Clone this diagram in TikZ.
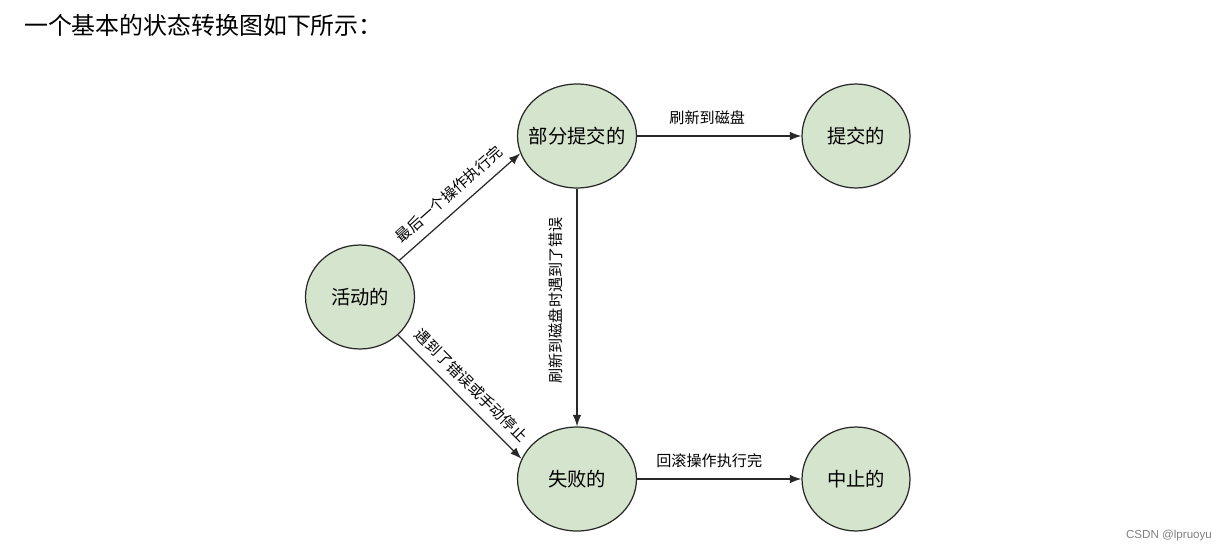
\documentclass[tikz,border=0pt]{standalone}
\usepackage{fontspec}
\setmainfont{Noto Sans CJK SC}
\newfontfamily\markfont{Liberation Sans}
\usepackage{xcolor}
\usepackage{tikz}
\usetikzlibrary{shapes,arrows.meta,positioning}
\definecolor{stategreen}{RGB}{213,228,204}
\definecolor{edgegray}{RGB}{40,40,40}

\begin{document}
\begin{tikzpicture}[
    x=0.02cm, y=-0.02cm,
    state/.style={ellipse, draw=edgegray, line width=0.7pt, fill=stategreen,
        minimum width=2.18cm, minimum height=2.08cm, inner xsep=-4pt, inner ysep=0pt,
        font=\fontsize{11}{13}\selectfont},
    trans/.style={-{Latex[length=6.5pt,width=4.8pt]}, draw=edgegray, line width=0.7pt},
    translabel/.style={font=\fontsize{8.6}{10}\selectfont, inner sep=3pt}
]
\useasboundingbox (0,0) rectangle (1229,551);
\node[anchor=west, font=\fontsize{13.6}{16}\selectfont] (title) at (18,25) {一个基本的状态转换图如下所示：};

\node[state] (active) at (360,297) {活动的};
\node[state, minimum width=2.38cm] (partial) at (577,136) {部分提交的};
\node[state, minimum width=2.16cm] (committed) at (856,136) {提交的};
\node[state, minimum width=2.38cm] (failed) at (577,479) {失败的};
\node[state, minimum width=2.16cm] (aborted) at (856,479) {中止的};

\draw[trans] (active.43) -- node[translabel, sloped, above=2pt] {最后一个操作执行完} (partial.197);
\draw[trans] (active.-45) -- node[translabel, sloped, above=2pt] {遇到了错误或手动停止} (failed.160);
\draw[trans] (partial) -- node[translabel, pos=0.47, rotate=90, anchor=south, yshift=5pt] {刷新到磁盘时遇到了错误} (failed);
\draw[trans] (partial) -- node[translabel, above=3pt, xshift=-0.24cm] {刷新到磁盘} (committed);
\draw[trans] (failed) -- node[translabel, above=3pt, xshift=-0.2cm] {回滚操作执行完} (aborted);

\node[font=\markfont\fontsize{6.6}{8}\selectfont, text=gray] (mark) at (1169,535) {CSDN @lpruoyu};
\end{tikzpicture}
\end{document}
